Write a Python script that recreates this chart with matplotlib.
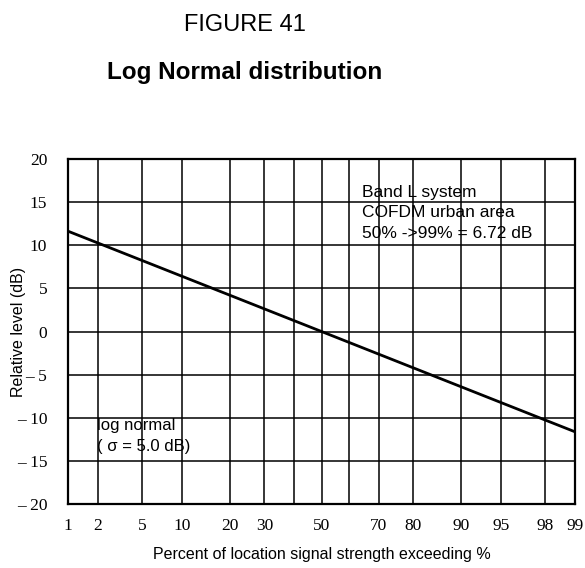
import numpy as np
import matplotlib
matplotlib.use("Agg")
import matplotlib.pyplot as plt
from matplotlib.ticker import FixedLocator, FixedFormatter
from statistics import NormalDist

# Percent of locations where signal strength is exceeded, and relative level (dB)
percent = [1, 2, 10, 50, 90, 98, 99]
level_db = [11.63, 10.27, 6.41, 0.0, -6.41, -10.27, -11.63]

x_major = [1, 2, 5, 10, 20, 30, 50, 70, 80, 90, 95, 98, 99]
x_minor = [40, 60]
y_ticks = [20, 15, 10, 5, 0, -5, -10, -15, -20]
y_labels = ["20", "15", "10", "5", "0", "\u2013 5", "\u2013 10", "\u2013 15", "\u2013 20"]

_nd = NormalDist()
_ppf = np.vectorize(_nd.inv_cdf, otypes=[float])
_cdf = np.vectorize(_nd.cdf, otypes=[float])


def prob_fwd(p):
    p = np.clip(np.asarray(p, dtype=float), 1e-9, 100 - 1e-9)
    return _ppf(p / 100.0)


def prob_inv(z):
    return _cdf(np.asarray(z, dtype=float)) * 100.0


fig = plt.figure(figsize=(5.85, 5.68), dpi=100)
ax = fig.add_axes([68 / 585, 1 - 504 / 568, 507 / 585, 345 / 568])

ax.set_xscale("function", functions=(prob_fwd, prob_inv))
ax.set_xlim(1, 99)
ax.set_ylim(-20, 20)

ax.xaxis.set_major_locator(FixedLocator(x_major))
ax.xaxis.set_major_formatter(FixedFormatter([str(v) for v in x_major]))
ax.xaxis.set_minor_locator(FixedLocator(x_minor))
ax.xaxis.set_minor_formatter(FixedFormatter([""] * len(x_minor)))
ax.yaxis.set_major_locator(FixedLocator(y_ticks))
ax.yaxis.set_major_formatter(FixedFormatter(y_labels))

ax.grid(True, which="both", color="black", linewidth=1.1)
ax.set_axisbelow(True)
ax.tick_params(axis="both", which="both", length=0)
ax.tick_params(axis="x", pad=10)
ax.tick_params(axis="y", pad=15)
for lab in ax.get_xticklabels() + ax.get_yticklabels():
    lab.set_fontfamily("Liberation Serif")
    lab.set_fontsize(12.5)
for sp in ax.spines.values():
    sp.set_linewidth(1.6)

ax.plot(percent, level_db, color="black", linewidth=2.0)

ax.set_xlabel("Percent of location signal strength exceeding %",
              fontfamily="Liberation Sans", fontsize=11.5)
ax.set_ylabel("Relative level (dB)", fontfamily="Liberation Sans", fontsize=11.5)
ax.xaxis.set_label_coords(0.5, -0.125)
ax.yaxis.set_label_coords(-0.082, 0.5)

ax.text(0.58, 0.925, "Band L system\nCOFDM urban area\n50% ->99% = 6.72 dB",
        transform=ax.transAxes, ha="left", va="top",
        fontfamily="Liberation Sans", fontsize=12.5, linespacing=1.45)
ax.text(0.057, 0.25, "log normal\n( \u03c3 = 5.0 dB)",
        transform=ax.transAxes, ha="left", va="top",
        fontfamily=["Liberation Sans", "DejaVu Sans"], fontsize=12, linespacing=1.5)

fig.text(245 / 585, 1 - 25 / 568, "FIGURE 41", ha="center", va="center",
         fontfamily="Liberation Sans", fontsize=17)
fig.text(245 / 585, 1 - 73 / 568, "Log Normal distribution", ha="center", va="center",
         fontfamily="Liberation Sans", fontsize=17.5, fontweight="bold")

fig.savefig("out.png", dpi=100, facecolor="white")
